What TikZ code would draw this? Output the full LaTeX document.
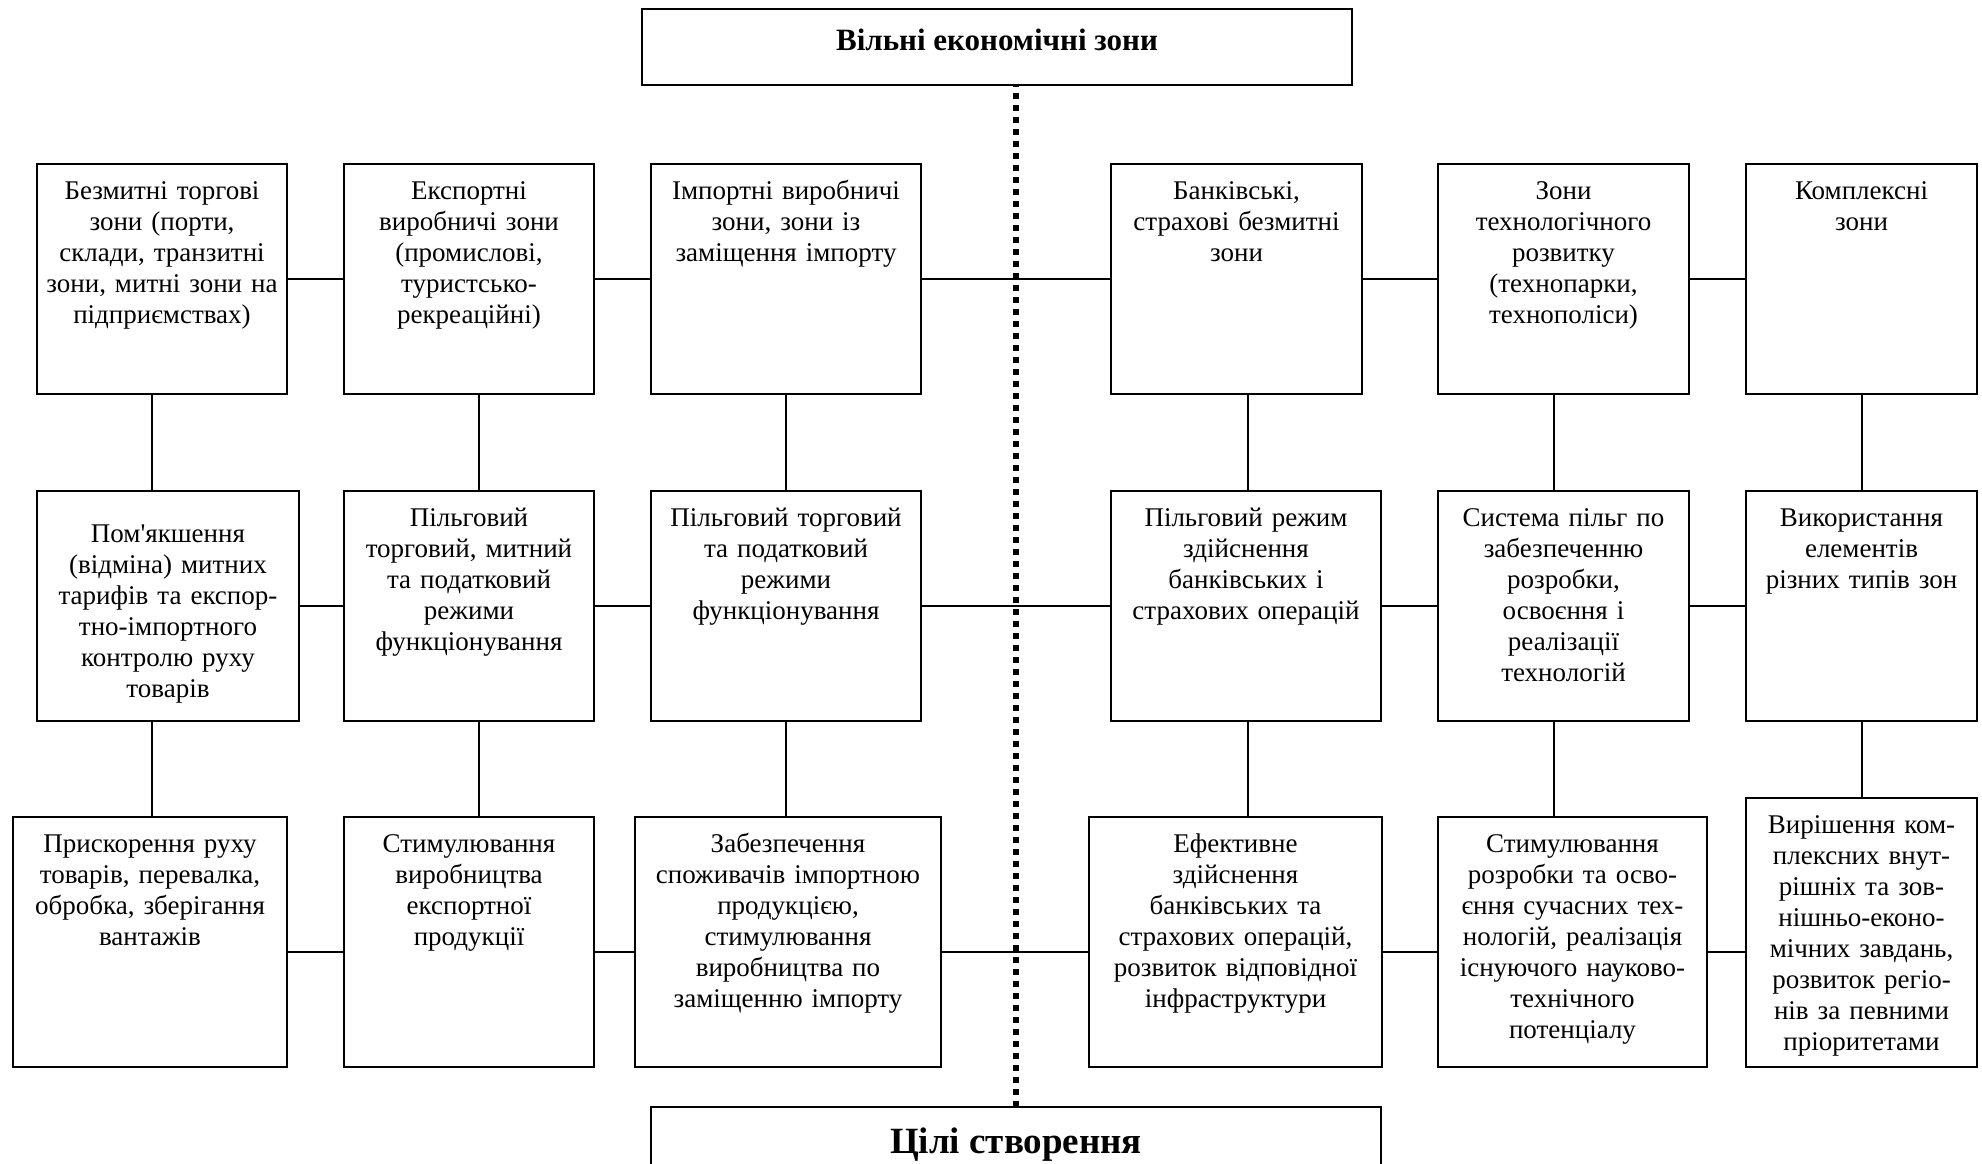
\documentclass[tikz,border=0pt]{standalone}
\usepackage{fontspec}
\setmainfont{Liberation Serif}
\usetikzlibrary{positioning}

\tikzset{
	zone/.style 2 args={draw, line width=1pt, align=center, inner xsep=2pt,
		inner ysep=0pt, outer sep=0pt, text width=#1, text height=17.5pt, text depth=#2,
		font=\fontsize{13.5}{15.5}\selectfont},
	head/.style={draw, line width=1pt, align=center, inner sep=0pt, outer sep=0pt},
	link/.style={line width=1pt},
	sepline/.style={line width=3pt, dash pattern=on 3pt off 3pt},
}

\begin{document}
\begin{tikzpicture}[x=0.5pt, y=-0.5pt]
	\useasboundingbox (0,0) rectangle (1982,1163);
	\clip (0,0) rectangle (1982,1163);
	\node [head, anchor=north, minimum width=355pt, text height=20.5pt, text depth=17.5pt,
		font=\bfseries\fontsize{15.5}{18}\selectfont] (FEZ) at (997,9) {Вільні економічні зони};
	% types of zones
	\node [zone={121pt}{97.5pt}, anchor=north west] (Trade) at (37,164) {Безмитні торгові\\ зони (порти,\\ склади, транзитні\\ зони, митні зони на\\ підприємствах)};
	\node [zone={121pt}{97.5pt}, right=28.5pt of Trade] (Export) {Експортні\\ виробничі зони\\ (промислові,\\ туристсько-\\ рекреаційні)};
	\node [zone={131pt}{97.5pt}, right=28.5pt of Export] (Import) {Імпортні виробничі\\ зони, зони із\\ заміщення імпорту};
	\node [zone={121.5pt}{97.5pt}, right=95pt of Import] (Bank) {Банківські,\\ страхові безмитні\\ зони};
	\node [zone={121.5pt}{97.5pt}, right=38pt of Bank] (Tech) {Зони\\ технологічного\\ розвитку\\ (технопарки,\\ технополіси)};
	\node [zone={111.5pt}{97.5pt}, right=28.5pt of Tech] (Complex) {Комплексні\\ зони};
	% regimes
	\node [zone={127pt}{89.5pt}, text height=25.5pt, anchor=north west] (TradeReg) at (37,491) {Пом\textquotesingle{}якшення\\ (відміна) митних\\ тарифів та експор-\\ тно-імпортного\\ контролю руху\\ товарів};
	\node [zone={121pt}{97.5pt}, right=22.5pt of TradeReg] (ExportReg) {Пільговий\\ торговий, митний\\ та податковий\\ режими\\ функціонування};
	\node [zone={131pt}{97.5pt}, right=28.5pt of ExportReg] (ImportReg) {Пільговий торговий\\ та податковий\\ режими\\ функціонування};
	\node [zone={131pt}{97.5pt}, right=95pt of ImportReg] (BankReg) {Пільговий режим\\ здійснення\\ банківських і\\ страхових операцій};
	\node [zone={121.5pt}{97.5pt}, right=28.5pt of BankReg] (TechReg) {Система пільг по\\ забезпеченню\\ розробки,\\ освоєння і\\ реалізації\\ технологій};
	\node [zone={111.5pt}{97.5pt}, right=28.5pt of TechReg] (ComplexReg) {Використання\\ елементів\\ різних типів зон};
	% goals
	\node [zone={133pt}{107.5pt}, anchor=north west] (TradeGoal) at (13,817) {Прискорення руху\\ товарів, перевалка,\\ обробка, зберігання\\ вантажів};
	\node [zone={121pt}{107.5pt}, right=28.5pt of TradeGoal] (ExportGoal) {Стимулювання\\ виробництва\\ експортної\\ продукції};
	\node [zone={149pt}{107.5pt}, right=20.5pt of ExportGoal] (ImportGoal) {Забезпечення\\ споживачів імпортною\\ продукцією,\\ стимулювання\\ виробництва по\\ заміщенню імпорту};
	\node [zone={142.5pt}{107.5pt}, right=74pt of ImportGoal] (BankGoal) {Ефективне\\ здійснення\\ банківських та\\ страхових операцій,\\ розвиток відповідної\\ інфраструктури};
	\node [zone={130.5pt}{107.5pt}, right=28pt of BankGoal] (TechGoal) {Стимулювання\\ розробки та осво-\\ єння сучасних тех-\\ нологій, реалізація\\ існуючого науково-\\ технічного\\ потенціалу};
	\node [zone={111.5pt}{117pt}, right=19.5pt of TechGoal.south east, anchor=south west] (ComplexGoal) {Вирішення ком-\\ плексних внут-\\ рішніх та зов-\\ нішньо-еконо-\\ мічних завдань,\\ розвиток регіо-\\ нів за певними\\ пріоритетами};
	\node [head, anchor=north, minimum width=365pt, text height=23pt, text depth=15pt,
		font=\bfseries\fontsize{18.5}{22}\selectfont] (Goals) at (1016,1107) {Цілі створення};
	% dividing line
	\draw [sepline] (Goals.north) -- (Goals.north |- FEZ.south);
	% rows
	\draw [link] (Trade) -- (Export) (Export) -- (Import) (Import) -- (Bank) (Bank) -- (Tech) (Tech) -- (Complex);
	\draw [link] (TradeReg) -- (ExportReg) (ExportReg) -- (ImportReg) (ImportReg) -- (BankReg) (BankReg) -- (TechReg) (TechReg) -- (ComplexReg);
	\draw [link] ([yshift=-5pt]TradeGoal.east) -- ([yshift=-5pt]ExportGoal.west)
		([yshift=-5pt]ExportGoal.east) -- ([yshift=-5pt]ImportGoal.west)
		([yshift=-5pt]ImportGoal.east) -- ([yshift=-5pt]BankGoal.west)
		([yshift=-5pt]BankGoal.east) -- ([yshift=-5pt]TechGoal.west)
		([yshift=-5pt]TechGoal.east) -- ([yshift=-5pt]TechGoal.east -| ComplexGoal.west);
	% columns
	\coordinate (v1) at ([xshift=-5pt]Trade.south);
	\coordinate (v2) at ([xshift=5pt]Export.south);
	\coordinate (v3) at (Import.south);
	\coordinate (v4) at ([xshift=5.75pt]Bank.south);
	\coordinate (v5) at ([xshift=-5pt]Tech.south);
	\coordinate (v6) at (Complex.south);
	\draw [link] (v1) -- (v1 |- TradeReg.north) (v1 |- TradeReg.south) -- (v1 |- TradeGoal.north);
	\draw [link] (v2) -- (v2 |- ExportReg.north) (v2 |- ExportReg.south) -- (v2 |- ExportGoal.north);
	\draw [link] (v3) -- (v3 |- ImportReg.north) (v3 |- ImportReg.south) -- (v3 |- ImportGoal.north);
	\draw [link] (v4) -- (v4 |- BankReg.north) (v4 |- BankReg.south) -- (v4 |- BankGoal.north);
	\draw [link] (v5) -- (v5 |- TechReg.north) (v5 |- TechReg.south) -- (v5 |- TechGoal.north);
	\draw [link] (v6) -- (v6 |- ComplexReg.north) (v6 |- ComplexReg.south) -- (v6 |- ComplexGoal.north);
\end{tikzpicture}
\end{document}
